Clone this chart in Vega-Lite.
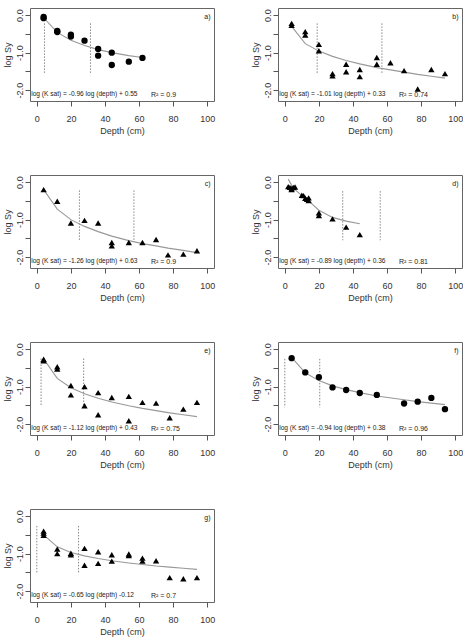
{
  "$schema": "https://vega.github.io/schema/vega-lite/v6.json",
  "padding": {"left": 2, "top": 7, "right": 0, "bottom": 0},
  "background": "white",
  "data": {"values": [
      {"kind": "pt", "panel": "a", "depth": 4, "v": -0.05, "marker": "circle"},
      {"kind": "pt", "panel": "a", "depth": 4, "v": -0.08, "marker": "circle"},
      {"kind": "pt", "panel": "a", "depth": 12, "v": -0.42, "marker": "circle"},
      {"kind": "pt", "panel": "a", "depth": 12, "v": -0.45, "marker": "circle"},
      {"kind": "pt", "panel": "a", "depth": 20, "v": -0.52, "marker": "circle"},
      {"kind": "pt", "panel": "a", "depth": 20, "v": -0.57, "marker": "circle"},
      {"kind": "pt", "panel": "a", "depth": 28, "v": -0.68, "marker": "circle"},
      {"kind": "pt", "panel": "a", "depth": 36, "v": -0.9, "marker": "circle"},
      {"kind": "pt", "panel": "a", "depth": 36, "v": -1.08, "marker": "circle"},
      {"kind": "pt", "panel": "a", "depth": 44, "v": -1.0, "marker": "circle"},
      {"kind": "pt", "panel": "a", "depth": 44, "v": -1.33, "marker": "circle"},
      {"kind": "pt", "panel": "a", "depth": 54, "v": -1.24, "marker": "circle"},
      {"kind": "pt", "panel": "a", "depth": 62, "v": -1.14, "marker": "circle"},

      {"kind": "pt", "panel": "b", "depth": 4, "v": -0.22, "marker": "triangle"},
      {"kind": "pt", "panel": "b", "depth": 4, "v": -0.27, "marker": "triangle"},
      {"kind": "pt", "panel": "b", "depth": 12, "v": -0.44, "marker": "triangle"},
      {"kind": "pt", "panel": "b", "depth": 12, "v": -0.53, "marker": "triangle"},
      {"kind": "pt", "panel": "b", "depth": 20, "v": -0.78, "marker": "triangle"},
      {"kind": "pt", "panel": "b", "depth": 20, "v": -0.95, "marker": "triangle"},
      {"kind": "pt", "panel": "b", "depth": 28, "v": -1.56, "marker": "triangle"},
      {"kind": "pt", "panel": "b", "depth": 28, "v": -1.62, "marker": "triangle"},
      {"kind": "pt", "panel": "b", "depth": 36, "v": -1.31, "marker": "triangle"},
      {"kind": "pt", "panel": "b", "depth": 36, "v": -1.51, "marker": "triangle"},
      {"kind": "pt", "panel": "b", "depth": 44, "v": -1.45, "marker": "triangle"},
      {"kind": "pt", "panel": "b", "depth": 44, "v": -1.64, "marker": "triangle"},
      {"kind": "pt", "panel": "b", "depth": 54, "v": -1.13, "marker": "triangle"},
      {"kind": "pt", "panel": "b", "depth": 54, "v": -1.31, "marker": "triangle"},
      {"kind": "pt", "panel": "b", "depth": 62, "v": -1.27, "marker": "triangle"},
      {"kind": "pt", "panel": "b", "depth": 70, "v": -1.48, "marker": "triangle"},
      {"kind": "pt", "panel": "b", "depth": 78, "v": -1.97, "marker": "triangle"},
      {"kind": "pt", "panel": "b", "depth": 86, "v": -1.45, "marker": "triangle"},
      {"kind": "pt", "panel": "b", "depth": 94, "v": -1.56, "marker": "triangle"},

      {"kind": "pt", "panel": "c", "depth": 4, "v": -0.2, "marker": "triangle"},
      {"kind": "pt", "panel": "c", "depth": 12, "v": -0.51, "marker": "triangle"},
      {"kind": "pt", "panel": "c", "depth": 20, "v": -1.09, "marker": "triangle"},
      {"kind": "pt", "panel": "c", "depth": 28, "v": -1.02, "marker": "triangle"},
      {"kind": "pt", "panel": "c", "depth": 36, "v": -1.09, "marker": "triangle"},
      {"kind": "pt", "panel": "c", "depth": 44, "v": -1.61, "marker": "triangle"},
      {"kind": "pt", "panel": "c", "depth": 44, "v": -1.7, "marker": "triangle"},
      {"kind": "pt", "panel": "c", "depth": 54, "v": -1.61, "marker": "triangle"},
      {"kind": "pt", "panel": "c", "depth": 62, "v": -1.61, "marker": "triangle"},
      {"kind": "pt", "panel": "c", "depth": 70, "v": -1.53, "marker": "triangle"},
      {"kind": "pt", "panel": "c", "depth": 77, "v": -1.94, "marker": "triangle"},
      {"kind": "pt", "panel": "c", "depth": 86, "v": -1.92, "marker": "triangle"},
      {"kind": "pt", "panel": "c", "depth": 94, "v": -1.83, "marker": "triangle"},

      {"kind": "pt", "panel": "d", "depth": 2, "v": -0.12, "marker": "triangle"},
      {"kind": "pt", "panel": "d", "depth": 3, "v": -0.14, "marker": "triangle"},
      {"kind": "pt", "panel": "d", "depth": 4, "v": -0.17, "marker": "triangle"},
      {"kind": "pt", "panel": "d", "depth": 4, "v": -0.2, "marker": "triangle"},
      {"kind": "pt", "panel": "d", "depth": 5, "v": -0.14, "marker": "triangle"},
      {"kind": "pt", "panel": "d", "depth": 6, "v": -0.13, "marker": "triangle"},
      {"kind": "pt", "panel": "d", "depth": 10, "v": -0.35, "marker": "triangle"},
      {"kind": "pt", "panel": "d", "depth": 11, "v": -0.36, "marker": "triangle"},
      {"kind": "pt", "panel": "d", "depth": 12, "v": -0.43, "marker": "triangle"},
      {"kind": "pt", "panel": "d", "depth": 13, "v": -0.46, "marker": "triangle"},
      {"kind": "pt", "panel": "d", "depth": 14, "v": -0.42, "marker": "triangle"},
      {"kind": "pt", "panel": "d", "depth": 14, "v": -0.49, "marker": "triangle"},
      {"kind": "pt", "panel": "d", "depth": 20, "v": -0.82, "marker": "triangle"},
      {"kind": "pt", "panel": "d", "depth": 20, "v": -0.89, "marker": "triangle"},
      {"kind": "pt", "panel": "d", "depth": 28, "v": -0.98, "marker": "triangle"},
      {"kind": "pt", "panel": "d", "depth": 36, "v": -1.2, "marker": "triangle"},
      {"kind": "pt", "panel": "d", "depth": 44, "v": -1.4, "marker": "triangle"},

      {"kind": "pt", "panel": "e", "depth": 4, "v": -0.27, "marker": "triangle"},
      {"kind": "pt", "panel": "e", "depth": 4, "v": -0.31, "marker": "triangle"},
      {"kind": "pt", "panel": "e", "depth": 12, "v": -0.47, "marker": "triangle"},
      {"kind": "pt", "panel": "e", "depth": 12, "v": -0.53, "marker": "triangle"},
      {"kind": "pt", "panel": "e", "depth": 20, "v": -0.97, "marker": "triangle"},
      {"kind": "pt", "panel": "e", "depth": 20, "v": -1.22, "marker": "triangle"},
      {"kind": "pt", "panel": "e", "depth": 28, "v": -1.0, "marker": "triangle"},
      {"kind": "pt", "panel": "e", "depth": 28, "v": -1.51, "marker": "triangle"},
      {"kind": "pt", "panel": "e", "depth": 36, "v": -1.16, "marker": "triangle"},
      {"kind": "pt", "panel": "e", "depth": 36, "v": -1.75, "marker": "triangle"},
      {"kind": "pt", "panel": "e", "depth": 44, "v": -1.29, "marker": "triangle"},
      {"kind": "pt", "panel": "e", "depth": 54, "v": -1.26, "marker": "triangle"},
      {"kind": "pt", "panel": "e", "depth": 54, "v": -1.91, "marker": "triangle"},
      {"kind": "pt", "panel": "e", "depth": 62, "v": -1.42, "marker": "triangle"},
      {"kind": "pt", "panel": "e", "depth": 70, "v": -1.44, "marker": "triangle"},
      {"kind": "pt", "panel": "e", "depth": 78, "v": -1.83, "marker": "triangle"},
      {"kind": "pt", "panel": "e", "depth": 86, "v": -1.6, "marker": "triangle"},
      {"kind": "pt", "panel": "e", "depth": 94, "v": -1.42, "marker": "triangle"},

      {"kind": "pt", "panel": "f", "depth": 4, "v": -0.24, "marker": "circle"},
      {"kind": "pt", "panel": "f", "depth": 12, "v": -0.62, "marker": "circle"},
      {"kind": "pt", "panel": "f", "depth": 20, "v": -0.75, "marker": "circle"},
      {"kind": "pt", "panel": "f", "depth": 28, "v": -1.02, "marker": "circle"},
      {"kind": "pt", "panel": "f", "depth": 36, "v": -1.09, "marker": "circle"},
      {"kind": "pt", "panel": "f", "depth": 44, "v": -1.17, "marker": "circle"},
      {"kind": "pt", "panel": "f", "depth": 54, "v": -1.22, "marker": "circle"},
      {"kind": "pt", "panel": "f", "depth": 70, "v": -1.45, "marker": "circle"},
      {"kind": "pt", "panel": "f", "depth": 78, "v": -1.4, "marker": "circle"},
      {"kind": "pt", "panel": "f", "depth": 86, "v": -1.3, "marker": "circle"},
      {"kind": "pt", "panel": "f", "depth": 94, "v": -1.6, "marker": "circle"},

      {"kind": "pt", "panel": "g", "depth": 4, "v": -0.4, "marker": "triangle"},
      {"kind": "pt", "panel": "g", "depth": 4, "v": -0.45, "marker": "triangle"},
      {"kind": "pt", "panel": "g", "depth": 4, "v": -0.51, "marker": "triangle"},
      {"kind": "pt", "panel": "g", "depth": 12, "v": -0.88, "marker": "triangle"},
      {"kind": "pt", "panel": "g", "depth": 12, "v": -1.0, "marker": "triangle"},
      {"kind": "pt", "panel": "g", "depth": 20, "v": -0.99, "marker": "triangle"},
      {"kind": "pt", "panel": "g", "depth": 20, "v": -1.03, "marker": "triangle"},
      {"kind": "pt", "panel": "g", "depth": 28, "v": -0.86, "marker": "triangle"},
      {"kind": "pt", "panel": "g", "depth": 28, "v": -1.31, "marker": "triangle"},
      {"kind": "pt", "panel": "g", "depth": 36, "v": -0.95, "marker": "triangle"},
      {"kind": "pt", "panel": "g", "depth": 36, "v": -1.26, "marker": "triangle"},
      {"kind": "pt", "panel": "g", "depth": 44, "v": -1.03, "marker": "triangle"},
      {"kind": "pt", "panel": "g", "depth": 44, "v": -1.2, "marker": "triangle"},
      {"kind": "pt", "panel": "g", "depth": 54, "v": -1.01, "marker": "triangle"},
      {"kind": "pt", "panel": "g", "depth": 54, "v": -1.05, "marker": "triangle"},
      {"kind": "pt", "panel": "g", "depth": 62, "v": -1.12, "marker": "triangle"},
      {"kind": "pt", "panel": "g", "depth": 62, "v": -1.2, "marker": "triangle"},
      {"kind": "pt", "panel": "g", "depth": 70, "v": -1.19, "marker": "triangle"},
      {"kind": "pt", "panel": "g", "depth": 78, "v": -1.64, "marker": "triangle"},
      {"kind": "pt", "panel": "g", "depth": 86, "v": -1.67, "marker": "triangle"},
      {"kind": "pt", "panel": "g", "depth": 94, "v": -1.64, "marker": "triangle"},

      {"kind": "fit", "panel": "a", "depth": 4, "v": -0.07}, {"kind": "fit", "panel": "a", "depth": 12, "v": -0.46}, {"kind": "fit", "panel": "a", "depth": 20, "v": -0.67},
      {"kind": "fit", "panel": "a", "depth": 28, "v": -0.81}, {"kind": "fit", "panel": "a", "depth": 36, "v": -0.92}, {"kind": "fit", "panel": "a", "depth": 44, "v": -1.0},
      {"kind": "fit", "panel": "a", "depth": 54, "v": -1.08}, {"kind": "fit", "panel": "a", "depth": 62, "v": -1.13},

      {"kind": "fit", "panel": "b", "depth": 4, "v": -0.3}, {"kind": "fit", "panel": "b", "depth": 12, "v": -0.76}, {"kind": "fit", "panel": "b", "depth": 20, "v": -0.96},
      {"kind": "fit", "panel": "b", "depth": 28, "v": -1.1}, {"kind": "fit", "panel": "b", "depth": 36, "v": -1.21}, {"kind": "fit", "panel": "b", "depth": 44, "v": -1.3},
      {"kind": "fit", "panel": "b", "depth": 54, "v": -1.4}, {"kind": "fit", "panel": "b", "depth": 62, "v": -1.46}, {"kind": "fit", "panel": "b", "depth": 70, "v": -1.52},
      {"kind": "fit", "panel": "b", "depth": 78, "v": -1.58}, {"kind": "fit", "panel": "b", "depth": 86, "v": -1.63}, {"kind": "fit", "panel": "b", "depth": 94, "v": -1.68},

      {"kind": "fit", "panel": "c", "depth": 4, "v": -0.2}, {"kind": "fit", "panel": "c", "depth": 12, "v": -0.72}, {"kind": "fit", "panel": "c", "depth": 20, "v": -1.0},
      {"kind": "fit", "panel": "c", "depth": 28, "v": -1.18}, {"kind": "fit", "panel": "c", "depth": 36, "v": -1.32}, {"kind": "fit", "panel": "c", "depth": 44, "v": -1.44},
      {"kind": "fit", "panel": "c", "depth": 54, "v": -1.56}, {"kind": "fit", "panel": "c", "depth": 62, "v": -1.64}, {"kind": "fit", "panel": "c", "depth": 70, "v": -1.7},
      {"kind": "fit", "panel": "c", "depth": 77, "v": -1.76}, {"kind": "fit", "panel": "c", "depth": 86, "v": -1.82}, {"kind": "fit", "panel": "c", "depth": 94, "v": -1.88},

      {"kind": "fit", "panel": "d", "depth": 2, "v": 0.08}, {"kind": "fit", "panel": "d", "depth": 4, "v": -0.08}, {"kind": "fit", "panel": "d", "depth": 6, "v": -0.2},
      {"kind": "fit", "panel": "d", "depth": 10, "v": -0.36}, {"kind": "fit", "panel": "d", "depth": 12, "v": -0.43}, {"kind": "fit", "panel": "d", "depth": 14, "v": -0.5},
      {"kind": "fit", "panel": "d", "depth": 20, "v": -0.75}, {"kind": "fit", "panel": "d", "depth": 28, "v": -0.94}, {"kind": "fit", "panel": "d", "depth": 36, "v": -1.04},
      {"kind": "fit", "panel": "d", "depth": 44, "v": -1.11},

      {"kind": "fit", "panel": "e", "depth": 4, "v": -0.26}, {"kind": "fit", "panel": "e", "depth": 12, "v": -0.78}, {"kind": "fit", "panel": "e", "depth": 20, "v": -1.03},
      {"kind": "fit", "panel": "e", "depth": 28, "v": -1.19}, {"kind": "fit", "panel": "e", "depth": 36, "v": -1.31}, {"kind": "fit", "panel": "e", "depth": 44, "v": -1.41},
      {"kind": "fit", "panel": "e", "depth": 54, "v": -1.51}, {"kind": "fit", "panel": "e", "depth": 62, "v": -1.58}, {"kind": "fit", "panel": "e", "depth": 70, "v": -1.64},
      {"kind": "fit", "panel": "e", "depth": 78, "v": -1.7}, {"kind": "fit", "panel": "e", "depth": 86, "v": -1.75}, {"kind": "fit", "panel": "e", "depth": 94, "v": -1.8},

      {"kind": "fit", "panel": "f", "depth": 4, "v": -0.22}, {"kind": "fit", "panel": "f", "depth": 12, "v": -0.63}, {"kind": "fit", "panel": "f", "depth": 20, "v": -0.84},
      {"kind": "fit", "panel": "f", "depth": 28, "v": -0.98}, {"kind": "fit", "panel": "f", "depth": 36, "v": -1.08}, {"kind": "fit", "panel": "f", "depth": 44, "v": -1.16},
      {"kind": "fit", "panel": "f", "depth": 54, "v": -1.25}, {"kind": "fit", "panel": "f", "depth": 70, "v": -1.35}, {"kind": "fit", "panel": "f", "depth": 78, "v": -1.4},
      {"kind": "fit", "panel": "f", "depth": 86, "v": -1.44}, {"kind": "fit", "panel": "f", "depth": 94, "v": -1.48},

      {"kind": "fit", "panel": "g", "depth": 4, "v": -0.5}, {"kind": "fit", "panel": "g", "depth": 12, "v": -0.82}, {"kind": "fit", "panel": "g", "depth": 20, "v": -0.97},
      {"kind": "fit", "panel": "g", "depth": 28, "v": -1.06}, {"kind": "fit", "panel": "g", "depth": 36, "v": -1.13}, {"kind": "fit", "panel": "g", "depth": 44, "v": -1.19},
      {"kind": "fit", "panel": "g", "depth": 54, "v": -1.25}, {"kind": "fit", "panel": "g", "depth": 62, "v": -1.29}, {"kind": "fit", "panel": "g", "depth": 70, "v": -1.33},
      {"kind": "fit", "panel": "g", "depth": 78, "v": -1.36}, {"kind": "fit", "panel": "g", "depth": 86, "v": -1.39}, {"kind": "fit", "panel": "g", "depth": 94, "v": -1.42},

      {"kind": "vline", "panel": "a", "depth": 4.5, "top": -0.22, "bottom": -1.55},
      {"kind": "vline", "panel": "a", "depth": 31.5, "top": -0.22, "bottom": -1.55},
      {"kind": "vline", "panel": "b", "depth": 19, "top": -0.22, "bottom": -1.55},
      {"kind": "vline", "panel": "b", "depth": 57, "top": -0.22, "bottom": -1.55},
      {"kind": "vline", "panel": "c", "depth": 25, "top": -0.22, "bottom": -1.55},
      {"kind": "vline", "panel": "c", "depth": 57, "top": -0.22, "bottom": -1.55},
      {"kind": "vline", "panel": "d", "depth": 34, "top": -0.24, "bottom": -1.55},
      {"kind": "vline", "panel": "d", "depth": 56, "top": -0.24, "bottom": -1.55},
      {"kind": "vline", "panel": "e", "depth": 2.5, "top": -0.25, "bottom": -1.53},
      {"kind": "vline", "panel": "e", "depth": 27.5, "top": -0.25, "bottom": -1.53},
      {"kind": "vline", "panel": "f", "depth": 0, "top": -0.26, "bottom": -1.55},
      {"kind": "vline", "panel": "f", "depth": 20.5, "top": -0.26, "bottom": -1.55},
      {"kind": "vline", "panel": "g", "depth": 0, "top": -0.26, "bottom": -1.52},
      {"kind": "vline", "panel": "g", "depth": 24.5, "top": -0.26, "bottom": -1.52},

      {"kind": "note", "panel": "a", "letter": "a)", "eq": "log (K sat) = -0.96 log (depth) + 0.55", "r2": "R² = 0.9"},
      {"kind": "note", "panel": "b", "letter": "b)", "eq": "log (K sat) = -1.01 log (depth) + 0.33", "r2": "R² = 0.74"},
      {"kind": "note", "panel": "c", "letter": "c)", "eq": "log (K sat) = -1.26 log (depth) + 0.63", "r2": "R² = 0.9"},
      {"kind": "note", "panel": "d", "letter": "d)", "eq": "log (K sat) = -0.89 log (depth) + 0.36", "r2": "R² = 0.81"},
      {"kind": "note", "panel": "e", "letter": "e)", "eq": "log (K sat) = -1.12 log (depth) + 0.43", "r2": "R² = 0.75"},
      {"kind": "note", "panel": "f", "letter": "f)", "eq": "log (K sat) = -0.94 log (depth) + 0.38", "r2": "R² = 0.96"},
      {"kind": "note", "panel": "g", "letter": "g)", "eq": "log (K sat) = -0.65 log (depth)  -0.12", "r2": "R² = 0.7"}
  ]},
  "facet": {"field": "panel", "type": "nominal", "title": null, "header": {"labels": false, "title": null, "labelPadding": 0, "labelFontSize": 0, "labelExpr": "''"}},
  "columns": 2,
  "spacing": {"row": 38, "column": 34},
  "resolve": {"axis": {"x": "independent", "y": "independent"}},
  "spec": {
    "width": 184,
    "height": 93,
    "encoding": {
      "x": {"type": "quantitative", "scale": {"domain": [-4, 104], "nice": false}, "axis": {"values": [0, 20, 40, 60, 80, 100]}, "title": "Depth (cm)"},
      "y": {"type": "quantitative", "scale": {"domain": [-2.29, 0.19], "nice": false}, "axis": {"values": [0, -0.5, -1, -1.5, -2], "labelExpr": "datum.value == 0 ? '0.0' : datum.value == -1 ? '-1.0' : datum.value == -2 ? '-2.0' : ''"}, "title": "log Sy"}
    },
    "layer": [
      {
        "transform": [{"filter": "datum.kind == 'vline'"}],
        "mark": {"type": "rule", "color": "#888", "strokeWidth": 1, "strokeDash": [1.5, 1.5]},
        "encoding": {
          "x": {"field": "depth", "type": "quantitative"},
          "y": {"field": "top", "type": "quantitative"},
          "y2": {"field": "bottom"}
        }
      },
      {
        "transform": [{"filter": "datum.kind == 'fit'"}],
        "mark": {"type": "line", "color": "#999", "strokeWidth": 1.1},
        "encoding": {
          "x": {"field": "depth", "type": "quantitative"},
          "y": {"field": "v", "type": "quantitative"},
          "order": {"field": "depth", "type": "quantitative"}
        }
      },
      {
        "transform": [{"filter": "datum.kind == 'pt'"}],
        "mark": {"type": "point", "filled": true, "opacity": 1, "color": "black", "size": 40},
        "encoding": {
          "x": {"field": "depth", "type": "quantitative"},
          "y": {"field": "v", "type": "quantitative"},
          "shape": {"field": "marker", "type": "nominal", "scale": {"domain": ["circle", "triangle"], "range": ["circle", "triangle-up"]}, "legend": null}
        }
      },
      {
        "transform": [{"filter": "datum.kind == 'note'"}],
        "mark": {"type": "text", "fontSize": 6.6, "align": "left", "baseline": "middle", "color": "#222"},
        "encoding": {
          "x": {"datum": -3.3},
          "y": {"datum": -2.1},
          "text": {"field": "eq"}
        }
      },
      {
        "transform": [{"filter": "datum.kind == 'note'"}],
        "mark": {"type": "text", "fontSize": 7, "align": "left", "baseline": "middle", "color": "#222"},
        "encoding": {
          "x": {"datum": 67},
          "y": {"datum": -2.12},
          "text": {"field": "r2"}
        }
      },
      {
        "transform": [{"filter": "datum.kind == 'note'"}],
        "mark": {"type": "text", "fontSize": 7, "align": "right", "baseline": "middle", "color": "#222"},
        "encoding": {
          "x": {"datum": 102},
          "y": {"datum": -0.05},
          "text": {"field": "letter"}
        }
      }
    ]
  },
  "config": {
    "font": "Liberation Sans",
    "header": {"labels": false, "title": null},
    "view": {"stroke": "#666", "strokeWidth": 1},
    "axisX": {"domain": false, "grid": false, "tickSize": 5, "tickColor": "#555", "labelFontSize": 9, "labelColor": "#333", "labelPadding": 8, "titleFontSize": 9, "titleFontWeight": "normal", "titleColor": "#333", "titlePadding": 3},
    "axisY": {"domain": false, "grid": false, "tickSize": 5, "tickColor": "#555", "labelFontSize": 9, "labelColor": "#333", "labelPadding": 1, "labelAngle": -90, "labelAlign": "center", "labelBaseline": "bottom", "titleFontSize": 9, "titleFontWeight": "normal", "titleColor": "#333", "titlePadding": 3}
  }
}
